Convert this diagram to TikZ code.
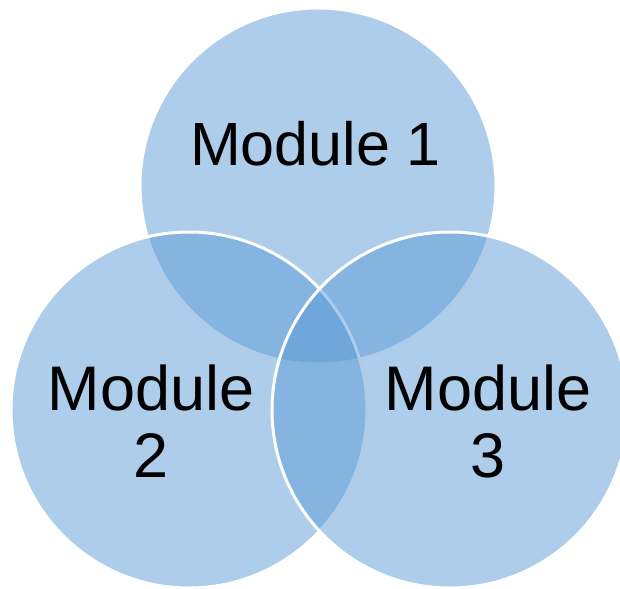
\documentclass[tikz,border=0pt]{standalone}
\usepackage{fontspec}
\setmainfont{Liberation Sans}
\usepackage{tikz}
\definecolor{vennblue}{RGB}{91,155,213}

\begin{document}
\begin{tikzpicture}[x=1pt,y=-1pt]

		\tikzset{
			module/.style={
				circle,
				fill=vennblue,
				fill opacity=0.5,
				draw=white,
				draw opacity=1,
				line width=3pt,
				minimum size=356pt,
				inner sep=0pt
			},
			modtext/.style={
				font=\fontsize{61}{67}\selectfont,
				align=center,
				inner sep=0pt,
				text=black
			}
		}

		\useasboundingbox (0,0) rectangle (620,588);

		\node[module] (M1) at (318,186) {};
		\node[module] (M2) at (189,410) {};
		\node[module] (M3) at (450,410) {};

		\node[modtext,anchor=base] (T1) at (315.5,165) {Module 1};
		\node[modtext,anchor=north,font=\fontsize{63}{67}\selectfont] (T2) at (151,365) {Module\\2};
		\node[modtext,anchor=north,font=\fontsize{63}{67}\selectfont] (T3) at (488,365) {Module\\3};

	\end{tikzpicture}
\end{document}
